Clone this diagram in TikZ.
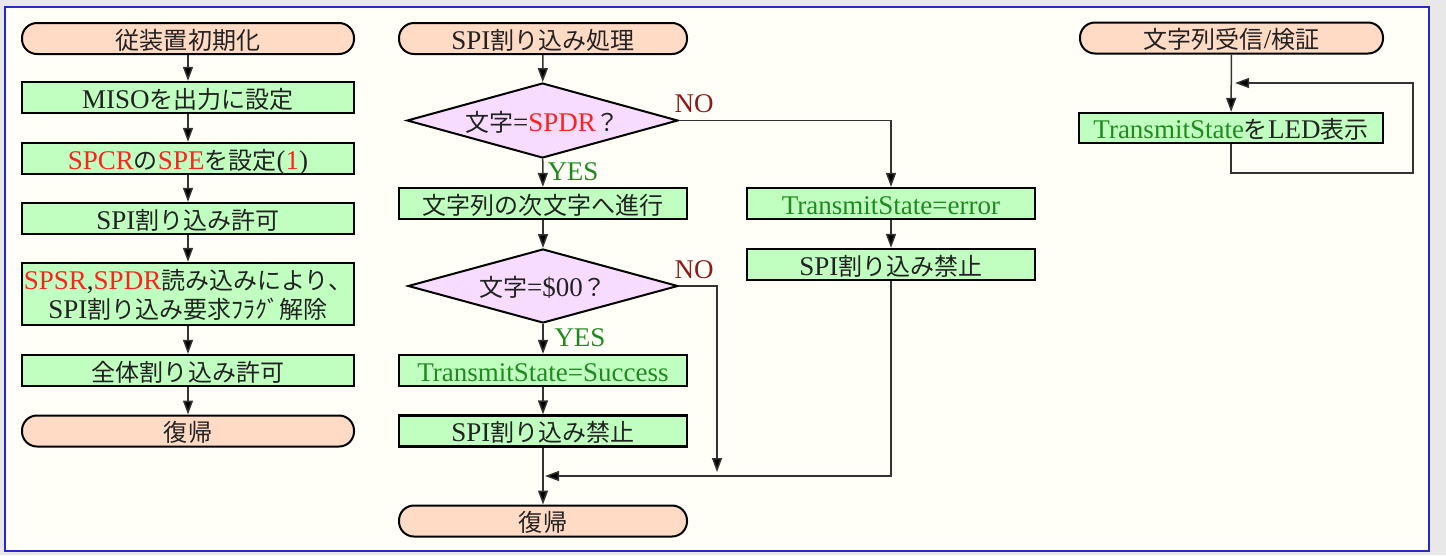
\documentclass[tikz,border=0pt]{standalone}
\usepackage{fontspec}
\setmainfont{Liberation Serif}
\newfontfamily\jp[Scale=0.89]{Noto Sans CJK JP}
\usetikzlibrary{arrows.meta,shapes.geometric}
\definecolor{outerbg}{HTML}{E8E8E8}
\definecolor{innerbg}{HTML}{FFFFF8}
\definecolor{framec}{HTML}{2828C8}
\definecolor{peach}{HTML}{FFDAC4}
\definecolor{boxg}{HTML}{C0FFC0}
\definecolor{lilac}{HTML}{F8DCFF}
\definecolor{redt}{HTML}{FF2020}
\definecolor{greent}{HTML}{208A20}
\definecolor{nored}{HTML}{8C1C1C}
\definecolor{conc}{HTML}{333333}
\definecolor{txt}{HTML}{222222}
\newcommand\J[1]{{\jp #1}}
\newcommand\R[1]{\textcolor{redt}{#1}}
\newcommand\G[1]{\textcolor{greent}{#1}}
\begin{document}
\begin{tikzpicture}[x=1pt,y=-1pt,
  every node/.style={font=\fontsize{27}{30}\selectfont, text=txt},
  term/.style={draw=black, line width=2pt, fill=peach, rounded corners=15pt, minimum height=31pt, inner sep=0pt, text height=21pt, text depth=0pt},
  proc/.style={draw=black, line width=2.2pt, fill=boxg, minimum height=31pt, inner sep=0pt, text height=21pt, text depth=0pt},
  dec/.style={diamond, draw=black, line width=2pt, fill=lilac, inner sep=0pt, aspect=3.6, text height=21pt, text depth=0pt},
  conn/.style={line width=1.5pt, draw=conc},
  arr/.style={conn, -{Triangle[length=14pt,width=10pt,fill=black]}},
  lab/.style={inner sep=0pt}
]
\useasboundingbox (0,0) rectangle (1446,555);
\fill[outerbg] (0,0) rectangle (1446,555);
\filldraw[fill=innerbg, draw=framec, line width=1.5pt] (5,7) rectangle (1429,551);

% left column
\node[term, minimum width=332pt] (s1) at (188,38.5) {\J{従装置初期化}};
\node[proc, minimum width=332pt] (l1) at (188,97.5) {MISO\J{を出力に設定}};
\node[proc, minimum width=332pt] (l2) at (188,158.5) {\R{SPCR}\J{の}\R{SPE}\J{を設定}(\R{1})};
\node[proc, minimum width=332pt] (l3) at (188,218.5) {SPI\J{割り込み許可}};
\node[draw=black, line width=2.2pt, fill=boxg, minimum width=332pt, minimum height=62pt, inner sep=0pt] (l4) at (188,294) {};
\node[lab] (l4a) at (188,281) {\R{SPSR},\R{SPDR}\J{読み込みにより、}};
\node[lab] (l4b) at (188,309) {SPI\J{割り込み要求ﾌﾗｸﾞ解除}};
\node[proc, minimum width=332pt] (l5) at (188,370.5) {\J{全体割り込み許可}};
\node[term, minimum width=332pt] (e1) at (188,431) {\J{復帰}};

% middle column
\node[term, minimum width=288pt] (s2) at (543,38.5) {SPI\J{割り込み処理}};
\node[dec, minimum width=271pt, minimum height=75pt] (d1) at (542.5,120.5) {\J{文字}=\R{SPDR}\J{？}};
\node[proc, minimum width=288pt] (m1) at (543,203.5) {\J{文字列の次文字へ進行}};
\node[dec, minimum width=270pt, minimum height=74pt] (d2) at (543,286) {\J{文字}=\$00\J{？}};
\node[proc, minimum width=288pt] (m2) at (543,370.5) {\G{TransmitState=Success}};
\node[proc, minimum width=288pt] (m3) at (543,431) {SPI\J{割り込み禁止}};
\node[term, minimum width=288pt] (e2) at (543,521) {\J{復帰}};

% error column
\node[proc, minimum width=288pt] (r1) at (891,203.5) {\G{TransmitState=error}};
\node[proc, minimum width=288pt] (r2) at (891,264.5) {SPI\J{割り込み禁止}};

% right column
\node[term, minimum width=303pt] (s3) at (1231.5,38) {\J{文字列受信}/\J{検証}};
\node[proc, minimum width=304pt, minimum height=30pt] (t1) at (1231,128) {\G{TransmitState}\J{を}LED\J{表示}};

% labels
\node[lab, text=nored] (no1) at (694,104) {NO};
\node[lab, text=nored] (no2) at (694,270) {NO};
\node[lab, text=greent] (yes1) at (573,172) {YES};
\node[lab, text=greent] (yes2) at (580,338) {YES};

% coordinates
\coordinate (c2) at (717,472);
\coordinate (mj) at (545,476);
\coordinate (lpA) at (1413,173);
\coordinate (lpB) at (1235,83);

% connectors left
\draw[arr] (s1) -- (l1);
\draw[arr] (l1) -- (l2);
\draw[arr] (l2) -- (l3);
\draw[arr] (l3) -- (l4);
\draw[arr] (l4) -- (l5);
\draw[arr] (l5) -- (e1);

% connectors middle
\draw[arr] (s2) -- (d1);
\draw[arr] (d1) -- (m1);
\draw[arr] (m1) -- (d2);
\draw[arr] (d2) -- (m2);
\draw[arr] (m2) -- (m3);
\draw[arr] (m3) -- (e2);
\draw[arr] (d1.east) -| (r1.north);
\draw[arr] (d2.east) -| (c2);
\draw[arr] (r1) -- (r2);
\draw[arr] (r2.south) |- (mj);

% connectors right
\draw[arr] (s3) -- (t1);
\draw[arr] (t1.south) |- (lpA) |- (lpB);
\end{tikzpicture}
\end{document}
